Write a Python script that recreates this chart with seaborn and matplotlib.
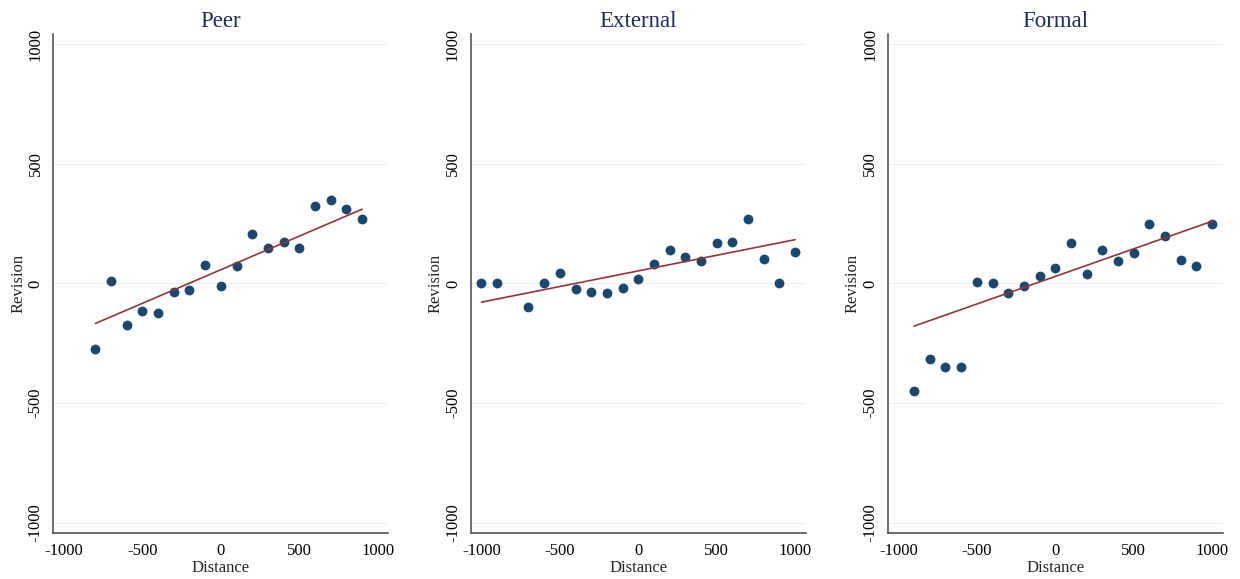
import numpy as np
import pandas as pd
import matplotlib.pyplot as plt
import seaborn as sns

# Valores (Distance / Revision)
peer_x = [-800, -700, -600, -500, -400, -300, -200, -100, 0, 100, 200, 300, 400, 500, 600, 700, 800, 900]
peer_y = [-274, 10, -174, -115, -124, -36, -29, 78, -10, 73, 205, 150, 173, 147, 325, 350, 312, 271]

external_x = [-1000, -900, -700, -600, -500, -400, -300, -200, -100, 0, 100, 200, 300, 400, 500, 600, 700, 800, 900, 1000]
external_y = [0, 0, -99, 0, 42, -25, -36, -40, -18, 18, 82, 138, 111, 92, 171, 174, 271, 104, 0, 133]

formal_x = [-900, -800, -700, -600, -500, -400, -300, -200, -100, 0, 100, 200, 300, 400, 500, 600, 700, 800, 900, 1000]
formal_y = [-449, -315, -350, -350, 8, 0, -38, -10, 33, 65, 169, 39, 140, 92, 126, 249, 199, 99, 71, 249]

# Recta ajustada (extremos)
peer_fit_x = [-800, 900]
peer_fit_y = [-167, 310]
external_fit_x = [-1000, 1000]
external_fit_y = [-78, 183]
formal_fit_x = [-900, 1000]
formal_fit_y = [-178, 260]

titles = ["Peer", "External", "Formal"]
ticks = [-1000, -500, 0, 500, 1000]

sns.set_style("white")
plt.rcParams['font.family'] = ['Liberation Serif', 'DejaVu Serif']
plt.rcParams['axes.unicode_minus'] = False

paneles = [
    (titles[0], pd.DataFrame({"Distance": peer_x, "Revision": peer_y}), peer_fit_x, peer_fit_y),
    (titles[1], pd.DataFrame({"Distance": external_x, "Revision": external_y}), external_fit_x, external_fit_y),
    (titles[2], pd.DataFrame({"Distance": formal_x, "Revision": formal_y}), formal_fit_x, formal_fit_y),
]

fig = plt.figure(figsize=(12.4, 5.79), dpi=100)
lefts = [0.043, 0.3796, 0.7159]

for left, (title, df, fx, fy) in zip(lefts, paneles):
    ax = fig.add_axes([left, 0.0794, 0.270, 0.862])
    # grilla horizontal muy suave
    for t in ticks:
        ax.axhline(t, color="#eaf2f4", lw=0.9, zorder=0)
    sns.scatterplot(data=df, x="Distance", y="Revision", ax=ax, s=50,
                    color="#1a476f", linewidth=0, zorder=3)
    sns.lineplot(x=fx, y=fy, ax=ax, color="#90353b", lw=1.2, zorder=4)
    ax.set_xlim(-1068, 1066)
    ax.set_ylim(-1042, 1042)
    ax.set_xticks(ticks)
    ax.set_yticks(ticks)
    ax.set_yticklabels([str(t) for t in ticks], rotation=90, va="center")
    ax.tick_params(axis="both", direction="out", length=5, width=1, color="#555555",
                   labelsize=12, labelcolor="black", pad=2)
    ax.set_title(title, fontsize=16.5, color="#1e2d5a", pad=5)
    ax.set_xlabel("Distance", fontsize=12, labelpad=1)
    ax.set_ylabel("Revision", fontsize=12, labelpad=1)
    sns.despine(ax=ax)
    for s in ["left", "bottom"]:
        ax.spines[s].set_color("#444444")
        ax.spines[s].set_linewidth(1.1)

plt.savefig("out.png", dpi=100)
plt.close()
